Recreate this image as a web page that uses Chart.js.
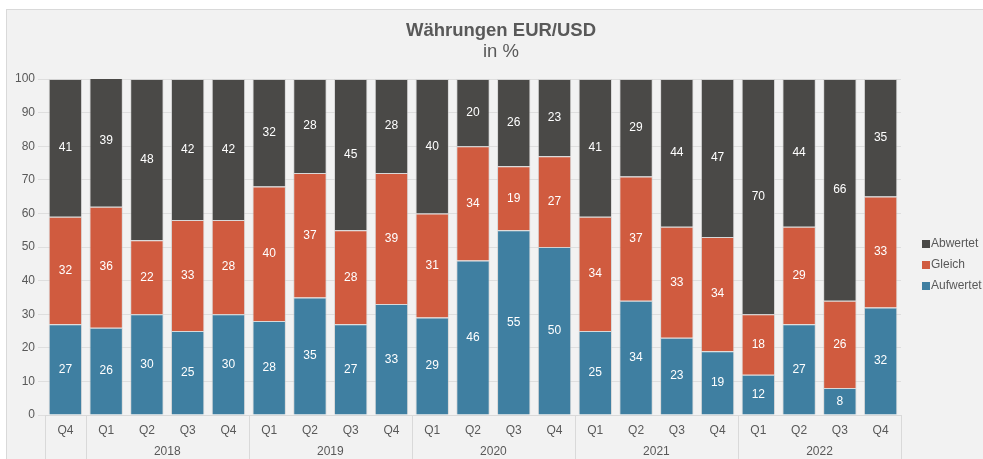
<!DOCTYPE html>
<html>
<head>
<meta charset="utf-8">
<script src="https://cdn.jsdelivr.net/npm/chart.js@4/dist/chart.umd.min.js"></script>
<style>
  html, body { margin: 0; padding: 0; background: #fff; }
  #wrap { width: 983px; height: 459px; }
</style>
</head>
<body>
<div id="wrap"><canvas id="chart" width="983" height="459"></canvas></div>
<script>
// Daten
const quarters = ['Q4','Q1','Q2','Q3','Q4','Q1','Q2','Q3','Q4','Q1','Q2','Q3','Q4','Q1','Q2','Q3','Q4','Q1','Q2','Q3','Q4'];
const years = ['', '2018', '2019', '2020', '2021', '2022'];
const yearStart = [0, 1, 5, 9, 13, 17];
const yearEnd = [0, 4, 8, 12, 16, 20];
const aufwertet = [27,26,30,25,30,28,35,27,33,29,46,55,50,25,34,23,19,12,27,8,32];
const gleich = [32,36,22,33,28,40,37,28,39,31,34,19,27,34,37,33,34,18,29,26,33];
const abwertet = [41,39,48,42,42,32,28,45,28,40,20,26,23,41,29,44,47,70,44,66,35];
const yTicks = [0,10,20,30,40,50,60,70,80,90,100];

const textColor = '#595959';
const fontFamily = 'Arial, "Liberation Sans", sans-serif';

// Hintergrund, Titel, Beschriftungen und Legende
const deko = {
    id: 'deko',
    beforeDraw(chart) {
        const ctx = chart.ctx;
        ctx.save();
        ctx.fillStyle = '#f2f2f2';
        ctx.fillRect(6, 9, 977, 450);
        ctx.strokeStyle = '#d9d9d9';
        ctx.lineWidth = 1;
        ctx.strokeRect(6.5, 9.5, 977, 450);
        ctx.restore();
    },
    afterDatasetsDraw(chart) {
        const ctx = chart.ctx;
        const x = chart.scales.x;
        const area = chart.chartArea;
        ctx.save();
        // Werte in den Balken
        ctx.fillStyle = '#fff';
        ctx.font = '12px ' + fontFamily;
        ctx.textAlign = 'center';
        ctx.textBaseline = 'middle';
        chart.data.datasets.forEach(function(ds, di) {
            chart.getDatasetMeta(di).data.forEach(function(bar, i) {
                const top = Math.min(bar.y, bar.base);
                const bottom = Math.max(bar.y, bar.base);
                ctx.fillText(String(ds.data[i]), bar.x, (top + bottom) / 2);
            });
        });
        // Titel
        ctx.fillStyle = textColor;
        ctx.font = 'bold 18.5px ' + fontFamily;
        ctx.fillText('Währungen EUR/USD', 501, 31);
        ctx.font = '18.5px ' + fontFamily;
        ctx.fillText('in %', 501, 52);
        // x-Achse: Quartale und Jahre
        ctx.font = '12px ' + fontFamily;
        quarters.forEach(function(q, i) {
            ctx.fillText(q, x.getPixelForValue(i), 431);
        });
        const step = x.getPixelForValue(1) - x.getPixelForValue(0);
        years.forEach(function(y, i) {
            const mid = (x.getPixelForValue(yearStart[i]) + x.getPixelForValue(yearEnd[i])) / 2;
            ctx.fillText(y, mid, 452);
        });
        // Trennlinien
        ctx.strokeStyle = '#d9d9d9';
        ctx.lineWidth = 1;
        ctx.beginPath();
        ctx.moveTo(area.left, area.bottom + 0.5);
        ctx.lineTo(area.right, area.bottom + 0.5);
        const seps = yearStart.map(function(s) { return x.getPixelForValue(s) - step / 2; });
        seps.push(area.right);
        seps.forEach(function(px) {
            const p = Math.round(px) + 0.5;
            ctx.moveTo(p, area.bottom);
            ctx.lineTo(p, 459);
        });
        ctx.stroke();
        // Legende
        const items = [['Abwertet', '#4a4947'], ['Gleich', '#d05b3f'], ['Aufwertet', '#3f7fa1']];
        ctx.textAlign = 'left';
        items.forEach(function(it, i) {
            const cy = 244 + i * 21;
            ctx.fillStyle = it[1];
            ctx.fillRect(922, cy - 4, 8, 8);
            ctx.fillStyle = textColor;
            ctx.fillText(it[0], 931, cy);
        });
        ctx.restore();
    }
};

const ctx = document.getElementById('chart').getContext('2d');
new Chart(ctx, {
    type: 'bar',
    data: {
        labels: quarters,
        datasets: [
            { label: 'Aufwertet', data: aufwertet, backgroundColor: '#3f7fa1' },
            { label: 'Gleich', data: gleich, backgroundColor: '#d05b3f' },
            { label: 'Abwertet', data: abwertet, backgroundColor: '#4a4947' }
        ]
    },
    options: {
        responsive: false,
        animation: false,
        layout: { padding: { left: 0, top: 79, right: 82, bottom: 44 } },
        datasets: { bar: { barPercentage: 0.82, categoryPercentage: 1, borderWidth: 1, borderColor: 'rgba(200,200,200,0.6)' } },
        scales: {
            x: {
                stacked: true,
                ticks: { display: false },
                grid: { display: false },
                border: { display: false },
                afterFit(scale) { scale.height = 0; }
            },
            y: {
                stacked: true,
                min: 0,
                max: 100,
                afterBuildTicks(scale) { scale.ticks = yTicks.map(function(v) { return { value: v }; }); },
                ticks: { color: textColor, font: { size: 12, family: fontFamily }, padding: 3 },
                grid: { color: '#dedede', tickLength: 7 },
                border: { display: false },
                afterFit(scale) { scale.width = 45; }
            }
        },
        plugins: {
            legend: { display: false },
            tooltip: { enabled: false }
        }
    },
    plugins: [deko]
});
</script>
</body>
</html>
